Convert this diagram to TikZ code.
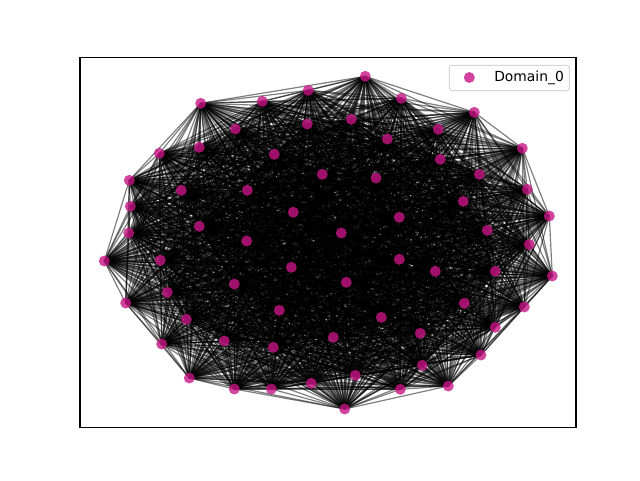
\documentclass[tikz,border=0pt]{standalone}
\usepackage{fontspec}
\setmainfont{DejaVu Sans}
\definecolor{nodecol}{RGB}{199,21,133}
\tikzset{
  edge/.style={draw=black, line width=0.9pt, draw opacity=0.5},
  dot/.style={fill=nodecol, fill opacity=0.8},
  frame/.style={draw=black, line width=0.83pt},
  legendbox/.style={draw=black!20, fill=white, fill opacity=0.8, draw opacity=0.8, rounded corners=2pt, line width=0.75pt}
}
\begin{document}
\begin{tikzpicture}[x=0.75pt, y=-0.75pt]
\useasboundingbox (0,0) rectangle (640,480);
\fill[white] (0,0) rectangle (640,480);
\foreach \i/\x/\y in {
1/200.7/103.3, 2/262.3/101.3, 3/308.3/90.3, 4/235.3/129, 5/307.3/124,
6/199.3/147.3, 7/159.3/153.3, 8/274.3/154.3, 9/322.3/174.3, 10/129.3/180.3,
11/181.3/190.3, 12/247.3/190.3, 13/130.3/206.3, 14/293.3/212.3, 15/128.7/233,
16/199.3/226.3, 17/246.7/241, 18/365.3/76.3, 19/401.3/98.3, 20/474.3/112.3,
21/351.3/119.3, 22/438.3/129.3, 23/387.3/139, 24/522.3/148.3, 25/440.3/159.3,
26/479.3/174.3, 27/376/178, 28/527.3/189.3, 29/463.3/201.3, 30/549.3/216,
31/399.3/217.3, 32/487.3/230.3, 33/341.3/233, 34/529.3/244.5, 35/104.3/261,
36/160.3/260.3, 37/291.3/267.3, 38/234.3/284, 39/167.3/292.3, 40/125.7/303,
41/279.3/310.3, 42/186.3/319.3, 43/224.3/341, 44/273.3/347.3, 45/161.7/344,
46/189.3/378, 47/234.3/389, 48/271.3/389, 49/311.3/383.3, 50/399.3/259.3,
51/552.3/276, 52/435.3/271.3, 53/495.3/271.3, 54/346.3/282.3, 55/524.3/307,
56/464.3/303.3, 57/381.3/317.3, 58/495.3/327.3, 59/333.3/337.3, 60/420.3/333.3,
61/481/355, 62/422.3/365.3, 63/355.3/375.3, 64/448.3/386, 65/400.3/389.3,
66/344.7/409}
  \coordinate (n\i) at (\x,\y);
\foreach \i in {1,...,65} {
  \pgfmathtruncatemacro\jstart{\i+1}
  \foreach \j in {\jstart,...,66} {
    \draw[edge] (n\i) -- (n\j);
  }
}
\foreach \i in {1,...,66}
  \fill[dot] (n\i) circle (4.1pt);
\draw[frame] (80,57.6) rectangle (576,427.2);
\draw[legendbox] (449.3,65.3) rectangle (569.3,90.7);
\coordinate (legdot) at (469.3,77.5);
\fill[dot] (legdot) circle (4.1pt);
\node[anchor=west, inner sep=0pt, font=\fontsize{10.4pt}{12pt}\selectfont] (legtext) at (494,77.5) {Domain\_0};
\end{tikzpicture}
\end{document}
